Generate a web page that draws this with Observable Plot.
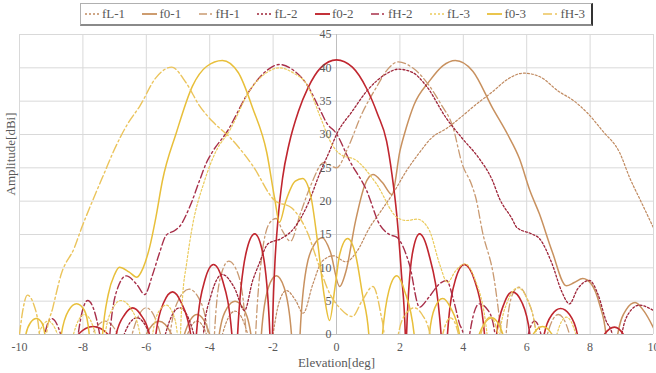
<!DOCTYPE html>
<html>
<head>
<meta charset="utf-8">
<script src="https://cdn.jsdelivr.net/npm/d3@7"></script>
<script src="https://cdn.jsdelivr.net/npm/@observablehq/plot@0.6"></script>
<style>
  html, body { margin: 0; padding: 0; background: #fff; }
  #wrap { position: relative; width: 656px; height: 373px; font-family: "Liberation Serif", "DejaVu Serif", serif; }
  #legend { position: absolute; left: 80px; top: 3px; width: 500px; height: 20px;
    border: 1px solid #b0b0b0; border-right: 2px solid #333; border-bottom: 2px solid #8a8a8a;
    background: #fff; display: flex; align-items: center; justify-content: space-between;
    padding: 0 6px 0 4px; box-sizing: content-box; font-size: 13px; color: #595959; z-index: 2;
    font-family: "Liberation Serif", "DejaVu Serif", serif; }
  .item { display: flex; align-items: center; white-space: nowrap; }
  .item svg { margin-right: 2px; }
  svg text { font-family: "Liberation Serif", "DejaVu Serif", serif; }
</style>
</head>
<body>
<div id="wrap"><div id="legend"></div></div>
<script>
// ---- data: [elevation deg, amplitude dBi]; negative values mark nulls (clipped at 0) ----
const fL1 = [[-10,-20],[-4.9,-20],[-4.7,0],[-4.4,2],[-4.1,0],[-4.0,-20],[-3.6,0],[-3.2,3.5],[-2.8,0],[-2.4,-20],[-2.0,0],[-1.8,5],[-1.58,6.6],[-1.3,5.2],[-1.05,3.2],[-0.75,7.5],[-0.45,11],[-0.1,11.8],[0.3,10.9],[0.65,12.5],[1.04,16],[1.4,18.5],[1.8,21.3],[2.2,24.5],[2.62,27.3],[3.0,29.5],[3.47,30.9],[3.9,32.5],[4.4,34.5],[4.92,36.4],[5.4,38.3],[5.9,39.2],[6.4,38.7],[7.0,36.5],[7.5,35],[7.9,33.3],[8.4,30.5],[8.93,27.3],[9.25,23.5],[9.6,20],[10,16]];
const f01 = [[-10,-20],[-6.2,-20],[-6.0,0],[-5.6,2],[-5.2,0],[-5.0,-20],[-4.8,0],[-4.4,3],[-4.0,0],[-3.85,-20],[-3.7,0],[-3.45,4],[-3.2,5],[-2.95,4],[-2.7,0],[-2.55,-20],[-2.37,0],[-2.15,7],[-1.9,8.8],[-1.65,7],[-1.42,0],[-1.3,-20],[-1.15,0],[-0.95,10],[-0.7,13.5],[-0.45,14.5],[-0.2,12.5],[0.1,7.2],[0.3,9.5],[0.6,17],[0.9,22.5],[1.15,24],[1.45,22.8],[1.75,21],[2.0,27.5],[2.2,31],[2.45,34.5],[2.93,38],[3.35,40.3],[3.75,41.1],[4.3,39.5],[4.92,34],[5.4,30],[5.77,26.4],[6.1,21.6],[6.4,18.1],[6.8,12.5],[7.25,7.3],[7.5,7.8],[7.77,8.4],[8.05,7.5],[8.3,4.5],[8.5,0],[8.65,-20],[8.87,0],[9.15,3.8],[9.42,4.8],[9.7,3.5],[10,1]];
const fH1 = [[-10,-20],[-7.9,-20],[-7.7,0],[-7.3,2],[-6.9,0],[-6.7,-20],[-6.45,0],[-6.0,4],[-5.55,0],[-5.4,-20],[-5.25,0],[-4.95,5.5],[-4.65,6.8],[-4.35,5.5],[-4.05,0],[-3.95,-20],[-3.85,0],[-3.65,8.8],[-3.4,11],[-3.1,9],[-2.85,0],[-2.7,-20],[-2.55,0],[-2.35,12],[-2.1,16.8],[-1.9,17.4],[-1.7,15.5],[-1.45,14],[-1.15,18],[-0.8,22.5],[-0.4,25.8],[0,25],[0.36,28],[0.8,33.1],[1.26,37.1],[1.6,39.7],[1.95,40.9],[2.4,40],[2.93,37.3],[3.3,34.5],[3.66,31.3],[3.97,25.5],[4.26,22.5],[4.4,20.4],[4.6,15.5],[4.98,8.1],[5.15,2],[5.2,0],[5.28,-20],[5.35,0],[5.55,6],[5.75,7.1],[6.0,5.5],[6.3,0],[6.45,-20],[6.65,0],[7.0,3],[7.35,0],[7.5,-20],[10,-20]];
const fL2 = [[-10,-20],[-7.0,-20],[-6.7,0],[-6.3,2.5],[-5.9,0],[-5.7,-20],[-5.4,0],[-4.95,4],[-4.5,0],[-4.35,-20],[-4.2,0],[-3.95,6],[-3.6,9],[-3.22,7],[-2.9,3.6],[-2.65,8],[-2.45,10.5],[-2.16,13.6],[-1.74,14.4],[-1.33,16],[-0.9,19.6],[-0.5,24.5],[-0.22,27.5],[0,30],[0.5,33.5],[0.97,36.6],[1.57,39.1],[1.95,39.8],[2.4,39.3],[2.83,37.3],[3.47,32.4],[3.97,29.4],[4.5,26.4],[4.92,23.1],[5.14,20.4],[5.52,17.5],[5.7,16],[6.15,15.1],[6.4,14.4],[6.8,10.6],[7.1,6.5],[7.35,4.6],[7.6,6.8],[7.98,8.1],[8.25,6],[8.5,2.1],[8.7,0],[8.85,-20],[9.0,0],[9.25,3.4],[9.55,4.4],[10,3.6]];
const f02 = [[-10,-20],[-8.3,-20],[-8.15,0],[-7.68,1.2],[-7.2,0],[-7.1,-20],[-6.95,0],[-6.68,3],[-6.43,4.0],[-6.18,3],[-5.9,0],[-5.8,-20],[-5.7,0],[-5.45,4.8],[-5.17,6.4],[-4.9,4.8],[-4.6,0],[-4.5,-20],[-4.42,0],[-4.15,8.2],[-3.88,10.5],[-3.6,8.2],[-3.3,0],[-3.2,-20],[-3.12,0],[-2.85,12.3],[-2.58,15.1],[-2.33,12.3],[-2.1,0],[-2.06,-20],[-2.02,0],[-1.95,10],[-1.85,17],[-1.7,23.5],[-1.5,28.5],[-1.2,33.5],[-0.9,37],[-0.5,40],[0,41.2],[0.5,40.1],[0.95,36.9],[1.3,33],[1.58,29],[1.75,24],[1.9,18],[2.05,9],[2.17,0],[2.19,-20],[2.21,0],[2.4,12.3],[2.62,15.1],[2.9,12.3],[3.3,0],[3.4,-20],[3.5,0],[3.75,8.2],[4.03,10.5],[4.35,8.2],[4.67,0],[4.85,-20],[5.05,0],[5.3,4.8],[5.55,6.4],[5.85,4.8],[6.1,0],[6.3,-20],[6.55,0],[6.8,3],[7.07,3.9],[7.35,3],[7.6,0],[8,-20],[8.45,0],[8.77,1.1],[9.05,0],[9.3,-20],[10,-20]];
const fH2 = [[-10,-20],[-9.25,-20],[-9.2,0],[-9.0,2.4],[-8.7,0],[-8.4,-20],[-8.15,0],[-7.85,5.1],[-7.47,0],[-7.3,-20],[-7.15,0],[-6.9,7],[-6.63,8.8],[-6.3,7.5],[-6.05,6],[-5.8,9],[-5.6,12],[-5.37,14.9],[-5.1,15.6],[-4.95,16.2],[-4.6,19.5],[-4.32,23.1],[-4.1,25.8],[-3.9,27.5],[-3.47,30.3],[-2.74,36.6],[-2.2,39.6],[-1.8,40.5],[-1.35,39.6],[-0.95,37.6],[-0.5,33.5],[-0.32,31.8],[0,30.1],[0.41,26.1],[0.95,21.6],[1.36,16.5],[1.67,15],[1.9,14.6],[2.3,10.5],[2.62,4.1],[2.9,5.5],[3.25,7.6],[3.47,8.1],[3.7,5],[3.88,1.6],[4.0,0],[4.1,-20],[4.2,0],[4.5,4.6],[4.8,3.5],[5.0,0],[5.1,-20],[5.9,-20],[6.05,0],[6.25,2],[6.45,0],[6.6,-20],[10,-20]];
const fL3 = [[-10,-20],[-9.6,-20],[-9.4,0],[-9.1,2],[-8.8,0],[-8.6,-20],[-8.3,0],[-7.95,3],[-7.6,0],[-7.5,-20],[-7.3,0],[-7.05,4],[-6.8,5.1],[-6.5,4],[-6.2,0],[-6.05,-20],[-5.8,0],[-5.6,3.5],[-5.37,4.4],[-5.15,3],[-5.02,0],[-4.97,-20],[-4.92,0],[-4.85,6],[-4.73,10.6],[-4.57,15.6],[-4.16,23.1],[-3.8,27.5],[-3.37,30.6],[-2.74,36.6],[-2.2,39.3],[-1.8,40],[-1.35,39.2],[-0.95,37.6],[-0.5,32.5],[-0.2,29],[0.1,27.1],[0.63,26.1],[1.26,22.6],[1.9,17.6],[2.2,17.1],[2.55,17.3],[2.93,15.6],[3.25,10.6],[3.5,7.8],[3.75,9.5],[4.05,10.6],[4.35,8.5],[4.75,0],[4.9,-20],[5.15,0],[5.4,5],[5.72,7],[6.0,5.5],[6.3,0],[6.5,-20],[6.95,0],[7.25,2.6],[7.55,0],[7.7,-20],[10,-20]];
const f03 = [[-10,-20],[-9.85,-20],[-9.8,0],[-9.65,1.8],[-9.47,2.4],[-9.3,1.8],[-9.2,0],[-9.0,-20],[-8.68,0],[-8.45,3.6],[-8.2,4.6],[-7.95,3.6],[-7.8,0],[-7.6,-20],[-7.38,0],[-7.2,6],[-7.0,9],[-6.85,10.1],[-6.55,9.4],[-6.3,8.6],[-6.1,10],[-5.9,13],[-5.7,17.5],[-5.49,23.1],[-5.05,30.3],[-4.54,37.3],[-4.1,40.2],[-3.6,41.1],[-3.1,39.3],[-2.64,33.9],[-2.2,27.3],[-1.95,20.4],[-1.8,16.8],[-1.6,20],[-1.3,23],[-1.07,23.4],[-0.8,20.5],[-0.6,14],[-0.38,5.6],[-0.22,2.1],[-0.05,7],[0.1,12],[0.35,14.4],[0.6,12],[0.82,6],[1.02,0],[1.2,-20],[1.45,0],[1.65,6.5],[1.9,8.8],[2.15,6.5],[2.45,0],[2.7,-20],[2.93,0],[3.1,4],[3.35,5.4],[3.6,4],[3.88,0],[4.2,-20],[4.5,0],[4.9,2.5],[5.25,0],[5.6,-20],[6.2,0],[6.5,1.2],[6.8,0],[7.0,-20],[10,-20]];
const fH3 = [[-10,0],[-9.9,3.5],[-9.75,5.9],[-9.55,4.5],[-9.37,0],[-9.25,-20],[-9.15,0],[-8.95,4],[-8.68,9.1],[-8.27,13],[-8.04,16],[-7.7,20],[-7.3,24.5],[-7.05,27.3],[-6.6,31.5],[-6.2,34.3],[-5.7,38.5],[-5.2,40.1],[-4.75,37.8],[-4.32,34.3],[-3.9,31.9],[-3.37,29.6],[-2.64,25.3],[-1.95,20.1],[-1.42,19],[-0.9,15.1],[-0.6,11],[-0.2,6],[0.1,4],[0.5,2.7],[0.8,5],[1.15,7.2],[1.4,3],[1.5,0],[1.6,-20],[1.95,0],[2.2,3.2],[2.45,4],[2.7,3],[2.95,0],[3.1,-20],[3.35,0],[3.6,2.5],[3.85,0],[4.0,-20],[4.55,0],[4.85,2.6],[5.1,0],[5.3,-20],[10,-20]];

const xTicks = [-10,-8,-6,-4,-2,0,2,4,6,8,10];
const yTicks = [0,5,10,15,20,25,30,35,40,45];
const names  = ["fL-1","f0-1","fH-1","fL-2","f0-2","fH-2","fL-3","f0-3","fH-3"];
const datas  = [fL1,f01,fH1,fL2,f02,fH2,fL3,f03,fH3];
const colors = ["#C08A60","#C8915F","#C99A72","#9E2438","#C0262F","#A8304A","#EBCB5C","#E8BF3A","#EBC45C"];
const dashes = ["2,2",null,"8,3,2,3","2,2",null,"8,3,2,3","2,2",null,"9,3,2,3"];
const widths = [1.2,1.5,1.3,1.3,1.6,1.4,1.2,1.5,1.4];

const FONT = '"Liberation Serif", "DejaVu Serif", serif';

const lines = datas.map((d, i) => Plot.line(d, {
  x: p => p[0], y: p => p[1], stroke: colors[i], strokeWidth: widths[i],
  strokeDasharray: dashes[i] ?? undefined, curve: "monotone-x", clip: true
}));

const chart = Plot.plot({
  width: 656, height: 373,
  marginTop: 34, marginBottom: 39, marginLeft: 19, marginRight: 3,
  x: {domain: [-10, 10], axis: null},
  y: {domain: [0, 45], axis: null},
  style: {fontFamily: FONT, fontSize: "12px", color: "#595959", background: "white", overflow: "visible"},
  marks: [
    Plot.gridX(xTicks, {stroke: "#d9d9d9", strokeOpacity: 1}),
    Plot.gridY(yTicks, {stroke: "#d9d9d9", strokeOpacity: 1}),
    Plot.ruleX([0], {stroke: "#bfbfbf"}),
    Plot.ruleY([0], {stroke: "#bfbfbf"}),
    ...lines,
    Plot.text(xTicks, {x: d => d, frameAnchor: "bottom", dy: 16, text: d => String(d), fill: "#595959", fontSize: 12}),
    Plot.text(yTicks, {x: 0, y: d => d, text: d => String(d), textAnchor: "end", dx: -5, fill: "#595959", fontSize: 12}),
    Plot.text(["Elevation[deg]"], {frameAnchor: "bottom", dy: 32, fontSize: 13, fill: "#595959"}),
    Plot.text(["Amplitude[dBi]"], {frameAnchor: "left", dx: -9, dy: 11, rotate: -90, fontSize: 13, fill: "#595959"})
  ]
});
document.getElementById("wrap").appendChild(chart);

// legend
const legend = document.getElementById("legend");
names.forEach((n, i) => {
  const item = document.createElement("span");
  item.className = "item";
  item.innerHTML = `<svg width="15" height="10"><line x1="0" y1="5" x2="15" y2="5" stroke="${colors[i]}" stroke-width="${widths[i]+0.3}" ${dashes[i] ? `stroke-dasharray="${dashes[i]}"` : ""}/></svg>${n}`;
  legend.appendChild(item);
});
</script>
</body>
</html>
